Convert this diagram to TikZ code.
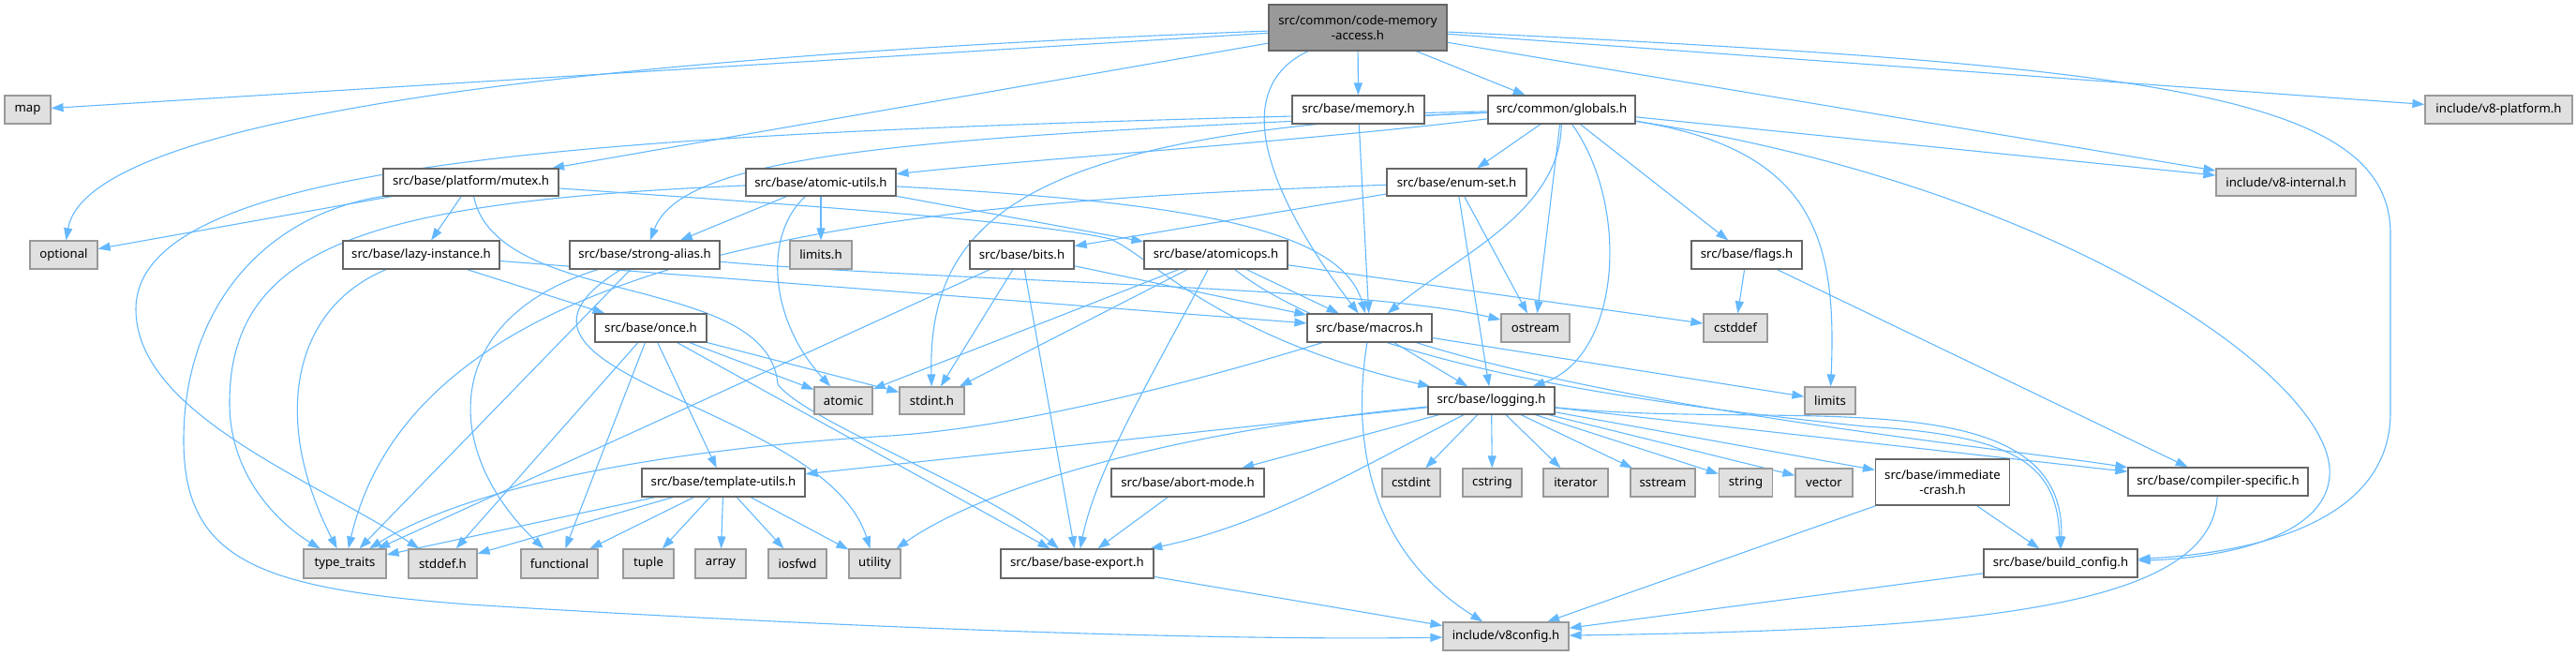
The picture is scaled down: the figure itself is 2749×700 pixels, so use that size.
\documentclass[tikz,border=0pt]{standalone}
\usepackage{fontspec}
\setmainfont{Noto Sans}
\usetikzlibrary{arrows.meta}
\definecolor{edgeblue}{HTML}{63B8FF}
\definecolor{bordA}{HTML}{666666}
\definecolor{bordB}{HTML}{999999}
\definecolor{fillB}{HTML}{E0E0E0}
\definecolor{fillroot}{HTML}{999999}
\pgfdeclarelayer{bg}
\pgfsetlayers{bg,main}
\begin{document}
\begin{tikzpicture}[x=1pt,y=-1pt,
  box/.style={rectangle,inner sep=0pt,line width=1.2pt,font=\fontsize{13.2}{16}\selectfont,align=center},
  hdr/.style={box,draw=bordA,fill=white},
  ext/.style={box,draw=bordB,fill=fillB},
  rootbox/.style={box,draw=bordA,fill=fillroot},
  dep/.style={draw=edgeblue,line width=1.1pt,-{Triangle[length=13pt,width=9pt]}}]
\useasboundingbox (0,0) rectangle (2749,700);
% nodes
\node[rootbox,minimum width=190pt,minimum height=49pt] (root) at (1449,29.5) {src/common/code-memory\\-access.h};
\node[ext,minimum width=49pt,minimum height=30pt] (map) at (29.5,117) {map};
\node[hdr,minimum width=141pt,minimum height=30pt] (memory) at (1449.5,117) {src/base/memory.h};
\node[hdr,minimum width=157pt,minimum height=30pt] (globals) at (1666.5,117) {src/common/globals.h};
\node[ext,minimum width=157pt,minimum height=30pt] (v8platform) at (2666.5,117) {include/v8-platform.h};
\node[hdr,minimum width=187pt,minimum height=29pt] (mutex) at (502.5,194.5) {src/base/platform/mutex.h};
\node[hdr,minimum width=160pt,minimum height=29pt] (atomicutils) at (876,194.5) {src/base/atomic-utils.h};
\node[hdr,minimum width=149pt,minimum height=29pt] (enumset) at (1554.5,194.5) {src/base/enum-set.h};
\node[ext,minimum width=149pt,minimum height=29pt] (v8internal) at (2439.5,194.5) {include/v8-internal.h};
\node[ext,minimum width=72pt,minimum height=30pt] (optional) at (68,272) {optional};
\node[hdr,minimum width=167pt,minimum height=30pt] (lazy) at (449.5,272) {src/base/lazy-instance.h};
\node[hdr,minimum width=160pt,minimum height=30pt] (strongalias) at (688,272) {src/base/strong-alias.h};
\node[ext,minimum width=66pt,minimum height=30pt] (limitsh) at (876,272) {limits.h};
\node[hdr,minimum width=111pt,minimum height=30pt] (bits) at (1090.5,272) {src/base/bits.h};
\node[hdr,minimum width=153pt,minimum height=30pt] (atomicops) at (1297.5,272) {src/base/atomicops.h};
\node[hdr,minimum width=118pt,minimum height=30pt] (flags) at (1864,272) {src/base/flags.h};
\node[hdr,minimum width=119pt,minimum height=30pt] (once) at (694.5,350) {src/base/once.h};
\node[hdr,minimum width=133pt,minimum height=30pt] (macros) at (1461.5,350) {src/base/macros.h};
\node[ext,minimum width=73pt,minimum height=30pt] (ostream) at (1638.5,350) {ostream};
\node[ext,minimum width=68pt,minimum height=30pt] (cstddef) at (1852,350) {cstddef};
\node[ext,minimum width=62pt,minimum height=29pt] (atomic) at (900,427.5) {atomic};
\node[ext,minimum width=69pt,minimum height=29pt] (stdint) at (994.5,427.5) {stdint.h};
\node[hdr,minimum width=135pt,minimum height=29pt] (logging) at (1591.5,427.5) {src/base/logging.h};
\node[ext,minimum width=54pt,minimum height=29pt] (limits) at (1953,427.5) {limits};
\node[hdr,minimum width=174pt,minimum height=30pt] (templ) at (772,515) {src/base/template-utils.h};
\node[hdr,minimum width=163pt,minimum height=30pt] (abort) at (1267.5,515) {src/base/abort-mode.h};
\node[ext,minimum width=62pt,minimum height=30pt] (cstdint) at (1506,515) {cstdint};
\node[ext,minimum width=63pt,minimum height=30pt] (cstring) at (1592.5,515) {cstring};
\node[ext,minimum width=69pt,minimum height=30pt] (iterator) at (1681.5,515) {iterator};
\node[ext,minimum width=69pt,minimum height=30pt] (sstream) at (1774.5,515) {sstream};
\node[ext,minimum width=57pt,minimum height=30pt] (string) at (1863,515) {string};
\node[ext,minimum width=61pt,minimum height=30pt] (vector) at (1946.5,515) {vector};
\node[hdr,minimum width=143pt,minimum height=49pt] (immcrash) at (2073,514.5) {src/base/immediate\\-crash.h};
\node[hdr,minimum width=192pt,minimum height=30pt] (compspec) at (2367,514) {src/base/compiler-specific.h};
\node[ext,minimum width=88pt,minimum height=31pt] (typetraits) at (368,601.5) {type\_traits};
\node[ext,minimum width=73pt,minimum height=31pt] (stddef) at (472.5,601.5) {stddef.h};
\node[ext,minimum width=82pt,minimum height=31pt] (functional) at (597,601.5) {functional};
\node[ext,minimum width=54pt,minimum height=31pt] (tuple) at (692,601.5) {tuple};
\node[ext,minimum width=54pt,minimum height=31pt] (array) at (769,601.5) {array};
\node[ext,minimum width=62pt,minimum height=31pt] (iosfwd) at (851,601.5) {iosfwd};
\node[ext,minimum width=55pt,minimum height=31pt] (utility) at (933.5,601.5) {utility};
\node[hdr,minimum width=163pt,minimum height=31pt] (baseexport) at (1149.5,601.5) {src/base/base-export.h};
\node[hdr,minimum width=164pt,minimum height=30pt] (buildcfg) at (2199,601) {src/base/build\_config.h};
\node[ext,minimum width=134pt,minimum height=30pt] (v8config) at (1607,679) {include/v8config.h};
% edges
\begin{pgfonlayer}{bg}
% root
\draw[dep] (root) -- (map);
\draw[dep] (root) .. controls (500,65) and (90,140) .. (optional);
\draw[dep] (root) -- (mutex);
\draw[dep] (root) -- (memory);
\draw[dep] (root) -- (globals);
\draw[dep] (root) .. controls (1300,100) and (1370,230) .. (macros);
\draw[dep] (root) -- (v8internal);
\draw[dep] (root) -- (v8platform);
\draw[dep] (root) .. controls (2300,70) and (2551,100) .. (2551,250) -- (2551,440) .. controls (2551,560) and (2400,590) .. (buildcfg);
% memory
\draw[dep] (memory) -- (macros);
% globals
\draw[dep] (globals) .. controls (700,140) and (145,160) .. (145,330) .. controls (145,440) and (330,510) .. (stddef);
\draw[dep] (globals) .. controls (1100,140) and (990,230) .. (stdint);
\draw[dep] (globals) .. controls (1940,160) and (1960,260) .. (limits);
\draw[dep] (globals) -- (ostream);
\draw[dep] (globals) -- (v8internal);
\draw[dep] (globals) .. controls (1400,150) and (1100,170) .. (atomicutils);
\draw[dep] (globals) .. controls (2200,200) and (2480,400) .. (2486,500) .. controls (2490,570) and (2380,595) .. (buildcfg);
\draw[dep] (globals) -- (enumset);
\draw[dep] (globals) -- (flags);
\draw[dep] (globals) .. controls (1740,220) and (1730,380) .. (logging);
\draw[dep] (globals) .. controls (1665,225) and (1560,270) .. (macros);
\draw[dep] (globals) .. controls (1000,145) and (730,160) .. (strongalias);
% mutex
\draw[dep] (mutex) -- (optional);
\draw[dep] (mutex) -- (lazy);
\draw[dep] (mutex) .. controls (800,215) and (1100,235) .. (1185,255) .. controls (1230,275) and (1300,360) .. (logging);
\draw[dep] (mutex) .. controls (530,330) and (820,290) .. (830,410) .. controls (860,450) and (1050,520) .. (baseexport);
\draw[dep] (mutex) .. controls (280,230) and (196,330) .. (196,470) .. controls (196,600) and (280,628) .. (500,645) .. controls (900,670) and (1300,684) .. (v8config);
% atomic-utils
\draw[dep] (atomicutils) -- (limitsh);
\draw[dep] (atomicutils) .. controls (815,250) and (820,340) .. (atomic);
\draw[dep] (atomicutils) .. controls (400,215) and (245,260) .. (245,430) .. controls (245,510) and (300,560) .. (typetraits);
\draw[dep] (atomicutils) -- (atomicops);
\draw[dep] (atomicutils) .. controls (1250,215) and (1430,240) .. (macros);
\draw[dep] (atomicutils) -- (strongalias);
% enum-set
\draw[dep] (enumset) -- (bits);
\draw[dep] (enumset) -- (ostream);
\draw[dep] (enumset) .. controls (1000,215) and (450,250) .. (typetraits);
\draw[dep] (enumset) -- (logging);
% flags
\draw[dep] (flags) -- (cstddef);
\draw[dep] (flags) -- (compspec);
% lazy-instance
\draw[dep] (lazy) .. controls (310,330) and (290,450) .. (typetraits);
\draw[dep] (lazy) -- (macros);
\draw[dep] (lazy) -- (once);
% strong-alias
\draw[dep] (strongalias) .. controls (470,340) and (470,480) .. (functional);
\draw[dep] (strongalias) .. controls (1000,300) and (1450,305) .. (ostream);
\draw[dep] (strongalias) -- (typetraits);
\draw[dep] (strongalias) .. controls (480,400) and (880,430) .. (utility);
% bits
\draw[dep] (bits) -- (stdint);
\draw[dep] (bits) -- (typetraits);
\draw[dep] (bits) -- (baseexport);
\draw[dep] (bits) -- (macros);
% atomicops
\draw[dep] (atomicops) -- (atomic);
\draw[dep] (atomicops) -- (stdint);
\draw[dep] (atomicops) .. controls (1230,400) and (1170,500) .. (baseexport);
\draw[dep] (atomicops) -- (macros);
\draw[dep] (atomicops) -- (cstddef);
\draw[dep] (atomicops) .. controls (1450,390) and (1750,430) .. (1990,455) .. controls (2160,465) and (2195,500) .. (buildcfg);
% once
\draw[dep] (once) -- (atomic);
\draw[dep] (once) -- (stdint);
\draw[dep] (once) -- (stddef);
\draw[dep] (once) -- (functional);
\draw[dep] (once) -- (templ);
\draw[dep] (once) -- (baseexport);
% macros
\draw[dep] (macros) -- (logging);
\draw[dep] (macros) -- (limits);
\draw[dep] (macros) .. controls (1445,450) and (1450,580) .. (v8config);
\draw[dep] (macros) .. controls (1300,400) and (1100,455) .. (950,465) .. controls (700,480) and (500,520) .. (typetraits);
\draw[dep] (macros) .. controls (1750,440) and (2150,480) .. (compspec);
% logging
\draw[dep] (logging) -- (cstdint);
\draw[dep] (logging) -- (cstring);
\draw[dep] (logging) -- (iterator);
\draw[dep] (logging) -- (sstream);
\draw[dep] (logging) -- (string);
\draw[dep] (logging) -- (vector);
\draw[dep] (logging) -- (immcrash);
\draw[dep] (logging) -- (compspec);
\draw[dep] (logging) .. controls (1900,460) and (2205,400) .. (buildcfg);
\draw[dep] (logging) .. controls (1250,460) and (1050,520) .. (utility);
\draw[dep] (logging) -- (abort);
\draw[dep] (logging) .. controls (1450,500) and (1350,560) .. (baseexport);
\draw[dep] (logging) -- (templ);
% template-utils
\draw[dep] (templ) -- (typetraits);
\draw[dep] (templ) -- (stddef);
\draw[dep] (templ) -- (functional);
\draw[dep] (templ) -- (tuple);
\draw[dep] (templ) -- (array);
\draw[dep] (templ) -- (iosfwd);
\draw[dep] (templ) -- (utility);
% leaves
\draw[dep] (abort) -- (baseexport);
\draw[dep] (immcrash) -- (v8config);
\draw[dep] (immcrash) -- (buildcfg);
\draw[dep] (compspec) .. controls (2360,650) and (2100,672) .. (v8config);
\draw[dep] (buildcfg) -- (v8config);
\draw[dep] (baseexport) -- (v8config);
\end{pgfonlayer}
\end{tikzpicture}
\end{document}
